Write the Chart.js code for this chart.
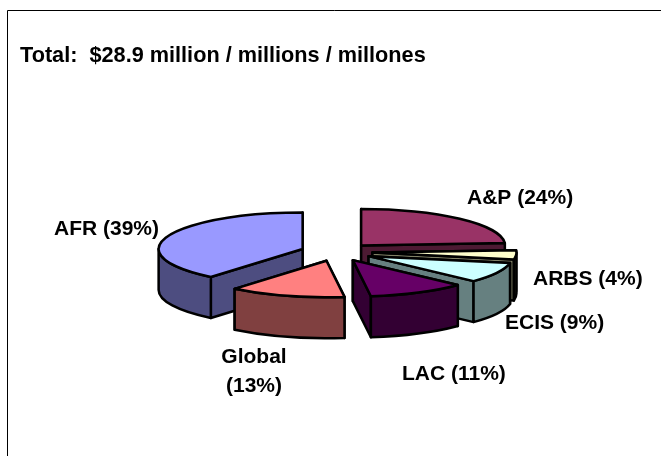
<!DOCTYPE html>
<html>
<head>
<meta charset="utf-8">
<style>
  html, body { margin: 0; padding: 0; background: #fff; }
  canvas { display: block; }
</style>
<script src="https://cdn.jsdelivr.net/npm/chart.js@4/dist/chart.umd.js"></script>
</head>
<body>
<canvas id="chart" width="661" height="456"></canvas>
<script>
const titleText = 'Total:  $28.9 million / millions / millones';
const categories = ['A&P', 'ARBS', 'ECIS', 'LAC', 'Global', 'AFR'];
const shares = [24, 4, 9, 11, 13, 39];
const topColors = ['#993366', '#FFFFCC', '#CCFFFF', '#660066', '#FF8080', '#9999FF'];
const sideColors = ['#4D1A33', '#808066', '#668080', '#330033', '#804040', '#4D4D80'];

// label anchors, same order as categories
const labelSpots = [
  { x: 467, y: 198 },
  { x: 533, y: 279 },
  { x: 505, y: 323 },
  { x: 402, y: 374 },
  { x: 254, y: 357, center: true, breakLine: true },
  { x: 54, y: 229 }
];

const SQUASH = 0.253;
const DEPTH = 41;
const FONT = 'bold 21px "Liberation Sans", Arial, sans-serif';

function drawSlice(ctx, arc, index) {
  const { x, y, startAngle, endAngle, outerRadius: r } = arc;
  const mid = (startAngle + endAngle) / 2;
  const cx = x + Math.cos(mid) * arc.options.offset;
  const cy = y + Math.sin(mid) * arc.options.offset * SQUASH;
  const rimX = a => cx + Math.cos(a) * r;
  const rimY = a => cy + Math.sin(a) * r * SQUASH;

  ctx.lineWidth = 2.5;
  ctx.lineJoin = 'round';
  ctx.strokeStyle = '#000';
  ctx.fillStyle = sideColors[index];

  // radial walls, the one further back goes first
  const walls = [startAngle, endAngle].sort((a, b) => rimY(a) - rimY(b));
  for (const a of walls) {
    ctx.beginPath();
    ctx.moveTo(cx, cy);
    ctx.lineTo(rimX(a), rimY(a));
    ctx.lineTo(rimX(a), rimY(a) + DEPTH);
    ctx.lineTo(cx, cy + DEPTH);
    ctx.closePath();
    ctx.fill();
    ctx.stroke();
  }

  // outer rim, only the front half of the ellipse shows
  const twoPi = Math.PI * 2;
  for (const turn of [0, twoPi]) {
    const from = Math.max(startAngle, turn);
    const to = Math.min(endAngle, turn + Math.PI);
    if (to <= from) continue;
    ctx.beginPath();
    ctx.ellipse(cx, cy, r, r * SQUASH, 0, from, to);
    ctx.ellipse(cx, cy + DEPTH, r, r * SQUASH, 0, to, from, true);
    ctx.closePath();
    ctx.fill();
    ctx.stroke();
  }

  // top face
  ctx.fillStyle = arc.options.backgroundColor;
  ctx.beginPath();
  ctx.moveTo(cx, cy);
  ctx.ellipse(cx, cy, r, r * SQUASH, 0, startAngle, endAngle);
  ctx.closePath();
  ctx.fill();
  ctx.stroke();
}

const pie3d = {
  id: 'pie3d',
  beforeDraw(chart) {
    const ctx = chart.ctx;
    ctx.save();
    ctx.strokeStyle = '#000';
    ctx.lineWidth = 1;
    ctx.beginPath();
    ctx.moveTo(7.5, 456);
    ctx.lineTo(7.5, 10.5);
    ctx.lineTo(661, 10.5);
    ctx.stroke();
    ctx.restore();
  },
  beforeDatasetDraw(chart, args) {
    const ctx = chart.ctx;
    const arcs = args.meta.data.map((arc, i) => ({ arc, i }));
    const apexY = ({ arc }) => arc.y + Math.sin((arc.startAngle + arc.endAngle) / 2) * arc.options.offset * SQUASH;
    arcs.sort((a, b) => apexY(a) - apexY(b));
    ctx.save();
    arcs.forEach(({ arc, i }) => drawSlice(ctx, arc, i));
    ctx.restore();
    return false;
  },
  afterDraw(chart) {
    const ctx = chart.ctx;
    ctx.save();
    ctx.font = FONT;
    ctx.fillStyle = '#000';
    ctx.textBaseline = 'middle';
    categories.forEach((name, i) => {
      const spot = labelSpots[i];
      ctx.textAlign = spot.center ? 'center' : 'left';
      if (spot.breakLine) {
        ctx.fillText(name, spot.x, spot.y);
        ctx.fillText(`(${shares[i]}%)`, spot.x, spot.y + 29);
      } else {
        ctx.fillText(`${name} (${shares[i]}%)`, spot.x, spot.y);
      }
    });
    ctx.restore();
  }
};

new Chart(document.getElementById('chart'), {
  type: 'pie',
  data: {
    labels: categories,
    datasets: [{
      data: shares,
      backgroundColor: topColors,
      borderWidth: 0,
      offset: 36
    }]
  },
  options: {
    responsive: false,
    animation: false,
    radius: 144,
    layout: { padding: { left: 20, right: 8, top: 43, bottom: 21 } },
    plugins: {
      legend: { display: false },
      tooltip: { enabled: false },
      title: {
        display: true,
        text: titleText,
        align: 'start',
        color: '#000',
        font: { family: '"Liberation Sans", Arial, sans-serif', size: 21.7, weight: 'bold' },
        padding: 0
      }
    }
  },
  plugins: [pie3d]
});
</script>
</body>
</html>
